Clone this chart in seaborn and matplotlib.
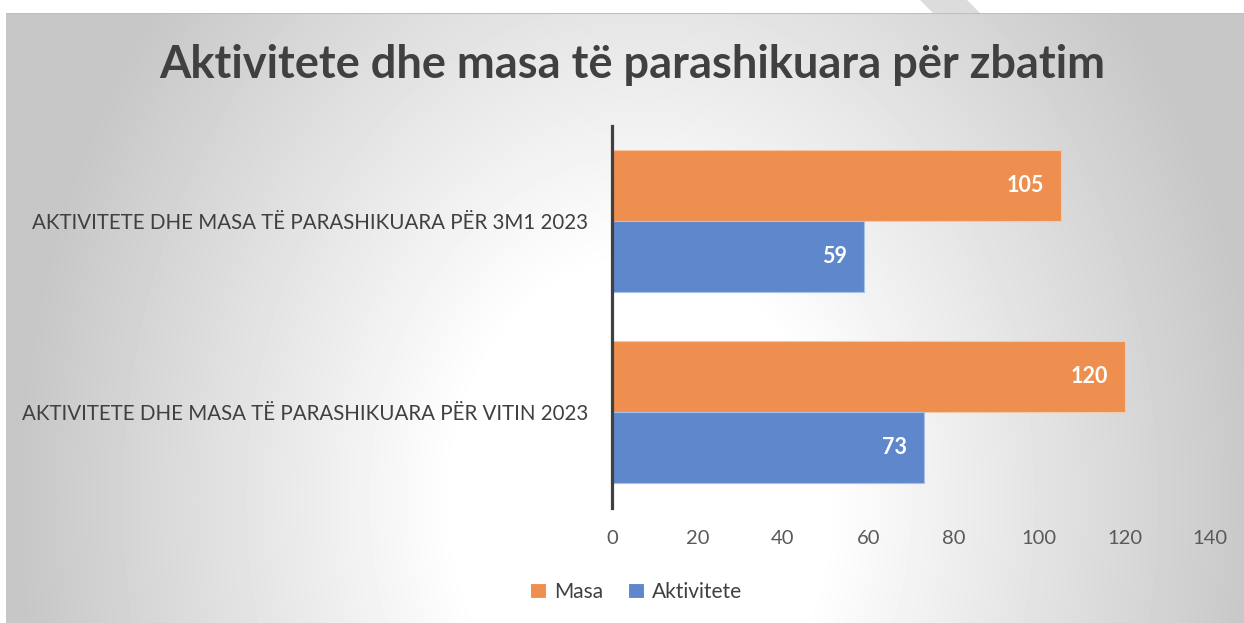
import numpy as np
import pandas as pd
import seaborn as sns
import matplotlib.pyplot as plt
from matplotlib.patches import Polygon

# Dane
categories = ["AKTIVITETE DHE MASA TË PARASHIKUARA PËR 3M1 2023",
              "AKTIVITETE DHE MASA TË PARASHIKUARA PËR VITIN 2023"]
masa = [105, 120]
aktivitete = [59, 73]
series = ["Masa", "Aktivitete"]
colors = ["#EE8F50", "#5F87CC"]
edge_colors = ["#f6c8a6", "#a9c0e8"]
x_ticks = [0, 20, 40, 60, 80, 100, 120, 140]

df = pd.DataFrame({
    "kategoria": categories * 2,
    "seria": [series[0]] * len(categories) + [series[1]] * len(categories),
    "vlera": masa + aktivitete,
})

sns.set_style("white")
plt.rcParams["font.family"] = ["Lato", "DejaVu Sans"]

W, H = 1244, 623
fig = plt.figure(figsize=(W / 100, H / 100), dpi=100)
fig.patch.set_facecolor("white")

# Tło z gradientem radialnym
bg = fig.add_axes([6 / W, 0, 1 - 6 / W, (H - 13) / H])
yy, xx = np.mgrid[13:H, 6:W]
r = np.sqrt(((xx - 640) / 620) ** 2 + ((yy - 500) / 785) ** 2)
val = 1 - 0.22 * np.clip((r - 0.3) / 0.7, 0, 1)
bg.imshow(val, cmap="gray", vmin=0, vmax=1, aspect="auto",
          extent=[0, 1, 0, 1], interpolation="bilinear")
bg.axhline(1, color="#bfbfbf", lw=1.5)
bg.set_xlim(0, 1)
bg.set_ylim(0, 1)
bg.axis("off")

# dekoracja u góry
fig.patches.append(Polygon([(920 / W, 1), (967 / W, 1), (980 / W, (H - 13) / H), (933 / W, (H - 13) / H)],
                           closed=True, transform=fig.transFigure, facecolor="#dcdcdc",
                           edgecolor="none"))

ax = fig.add_axes([612 / W, (H - 507.5) / H, 598 / W, 382 / H])
ax.patch.set_alpha(0)
sns.barplot(data=df, y="kategoria", x="vlera", hue="seria", hue_order=series,
            palette=colors, orient="h", width=0.74, ax=ax,
            linewidth=0.8, saturation=1)

for cont, ec in zip(ax.containers, edge_colors):
    for p in cont:
        p.set_edgecolor(ec)
    labels = ax.bar_label(cont, padding=-12, color="white", fontsize=15.5,
                          fontweight="bold", fmt="%d")
    for lab in labels:
        lab.set_ha("right")

ax.set_xlim(0, 140)
ax.set_xticks(x_ticks)
ax.set_xticklabels([str(t) for t in x_ticks], fontsize=14.5, color="#595959")
ax.set_yticks(range(len(categories)))
ax.set_yticklabels(categories, fontsize=14.8, color="#404040")
ax.tick_params(axis="both", length=0)
ax.tick_params(axis="x", pad=16.5)
ax.tick_params(axis="y", pad=17)
ax.set_xlabel("")
ax.set_ylabel("")
for s in ["top", "right", "bottom"]:
    ax.spines[s].set_visible(False)
ax.spines["left"].set_color("#404040")
ax.spines["left"].set_linewidth(2.3)

leg = ax.legend(loc="center", bbox_to_anchor=(636 / W, (H - 592) / H),
                bbox_transform=fig.transFigure, ncol=2, frameon=False,
                fontsize=15, handlelength=0.75, handleheight=0.75,
                handletextpad=0.4, columnspacing=1.2)
for t in leg.get_texts():
    t.set_color("#404040")

fig.text(632 / W, (H - 65) / H, "Aktivitete dhe masa të parashikuara për zbatim",
         ha="center", va="center", fontsize=32.5, fontweight="bold", color="#404040")

fig.savefig("out.png", dpi=100)
